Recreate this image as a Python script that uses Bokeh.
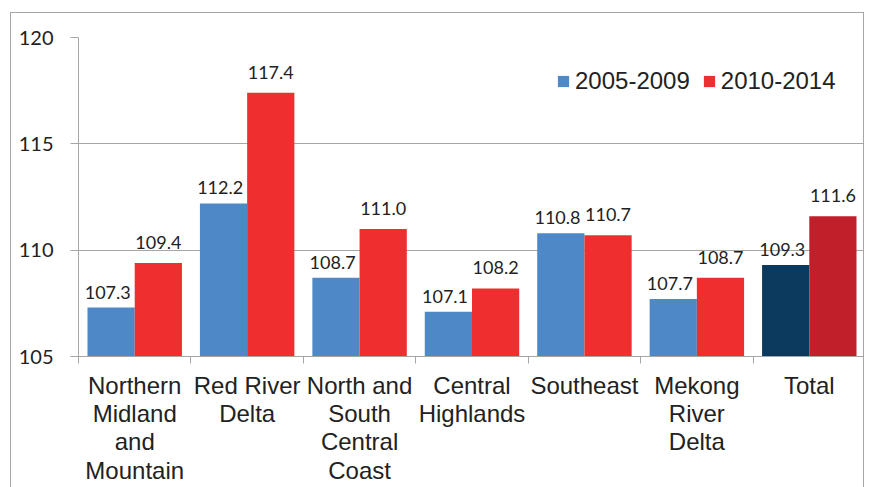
from bokeh.plotting import figure
from bokeh.models import (ColumnDataSource, FixedTicker, LabelSet, Legend, LegendItem, Range1d)
from bokeh.core.properties import value
from bokeh.transform import dodge
from bokeh.embed import file_html
from bokeh.resources import INLINE

categories = ["Northern\nMidland\nand\nMountain", "Red River\nDelta", "North and\nSouth\nCentral\nCoast",
              "Central\nHighlands", "Southeast", "Mekong\nRiver\nDelta", "Total"]
series_names = ["2005-2009", "2010-2014"]
values_2005_2009 = [107.3, 112.2, 108.7, 107.1, 110.8, 107.7, 109.3]
values_2010_2014 = [109.4, 117.4, 111.0, 108.2, 110.7, 108.7, 111.6]
y_ticks = [105, 110, 115, 120]

BLUE, RED = "#4F88C7", "#EE2E2F"
NAVY, DARKRED = "#0B3A5E", "#C1202A"
GRID = "#A6A6A6"

n = len(categories)
centers = [i + 0.5 for i in range(n)]
colors1 = [BLUE] * (n - 1) + [NAVY]
colors2 = [RED] * (n - 1) + [DARKRED]

src = ColumnDataSource(data=dict(
    x=centers, v1=values_2005_2009, v2=values_2010_2014,
    l1=[f"{v:.1f}" for v in values_2005_2009], l2=[f"{v:.1f}" for v in values_2010_2014],
    c1=colors1, c2=colors2,
))

p = figure(width=854, height=480, output_backend="svg", toolbar_location=None,
           x_range=Range1d(0, n), y_range=Range1d(105, 120),
           min_border_left=67, min_border_right=0, min_border_top=24, min_border_bottom=137,
           margin=(12, 0, 0, 10),
           styles={"border-left": "1px solid #A6A6A6", "border-top": "1px solid #A6A6A6",
                   "border-right": "1px solid #A6A6A6"})
p.outline_line_color = None
p.background_fill_color = "white"
p.border_fill_color = "white"

W = 0.42
r1 = p.vbar(x=dodge("x", -0.21, range=p.x_range), top="v1", bottom=105, width=W,
            fill_color="c1", line_color=None, source=src)
r2 = p.vbar(x=dodge("x", 0.21, range=p.x_range), top="v2", bottom=105, width=W,
            fill_color="c2", line_color=None, source=src)

lab_font = "Lato"
p.add_layout(LabelSet(x=dodge("x", -0.24, range=p.x_range), y="v1", text="l1", source=src,
                      text_align="center", text_baseline="bottom", y_offset=9,
                      text_font=value(lab_font), text_font_size=value("18px"),
                      text_color=value("#222222")))
p.add_layout(LabelSet(x=dodge("x", 0.21, range=p.x_range), y="v2", text="l2", source=src,
                      text_align="center", text_baseline="bottom", y_offset=14,
                      text_font=value(lab_font), text_font_size=value("18px"),
                      text_color=value("#222222")))

# x axis
xa = p.xaxis[0]
xa.ticker = FixedTicker(ticks=centers, minor_ticks=list(range(n + 1)))
xa.major_label_overrides = {c: lab for c, lab in zip(centers, categories)}
xa.major_tick_line_color = None
xa.major_tick_out = 0
xa.major_tick_in = 0
xa.minor_tick_line_color = GRID
xa.minor_tick_out = 7
xa.minor_tick_in = 0
xa.axis_line_color = GRID
xa.major_label_text_font = "Liberation Sans"
xa.major_label_text_font_size = "24px"
xa.major_label_text_color = "#222222"
xa.major_label_text_line_height = 1.05
xa.major_label_standoff = 8

ya = p.yaxis[0]
ya.ticker = FixedTicker(ticks=y_ticks, minor_ticks=[])
ya.major_tick_out = 8
ya.major_tick_in = 0
ya.major_tick_line_color = GRID
ya.axis_line_color = GRID
ya.minor_tick_line_color = None
ya.major_label_text_font = lab_font
ya.major_label_text_font_size = "20px"
ya.major_label_text_color = "#222222"
ya.major_label_standoff = 17

p.xgrid.grid_line_color = None
p.ygrid.grid_line_color = GRID
p.ygrid.ticker = FixedTicker(ticks=y_ticks)

legend = Legend(items=[LegendItem(label=series_names[0], renderers=[r1], index=0),
                       LegendItem(label=series_names[1], renderers=[r2], index=0)],
                orientation="horizontal", location=(478, 261),
                border_line_color=None, background_fill_alpha=0,
                glyph_width=14, glyph_height=14, label_standoff=5, spacing=12,
                padding=0, margin=0,
                label_text_font="Liberation Sans", label_text_font_size="24px",
                label_text_color="#222222")
p.add_layout(legend, "center")

open("out.html", "w").write(file_html(p, INLINE))
